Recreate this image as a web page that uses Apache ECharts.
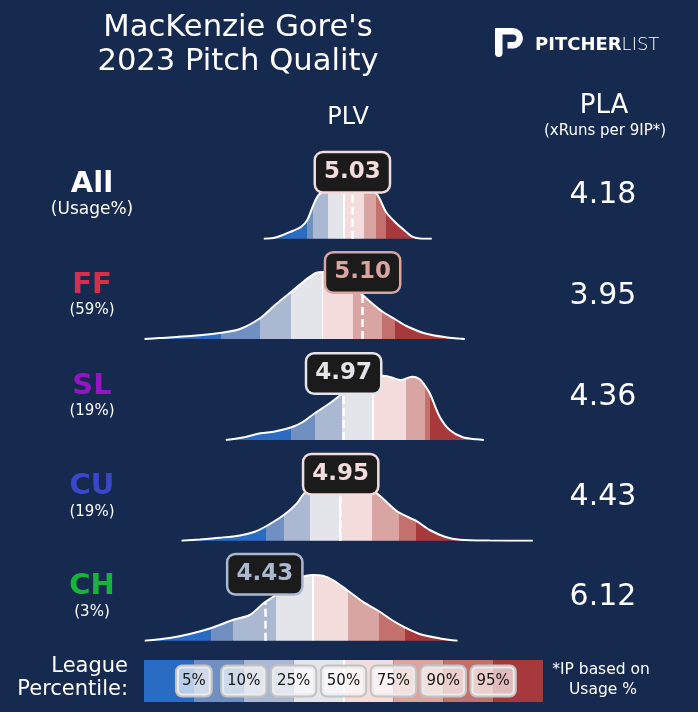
<!DOCTYPE html>
<html><head><meta charset="utf-8">
<script src="https://cdn.jsdelivr.net/npm/echarts@6/dist/echarts.min.js"></script>
<style>html,body{margin:0;padding:0;background:#162a4f}#c{width:698px;height:712px}</style>
</head><body><div id="c"></div>
<script>
// ---------------- data ----------------
const pitchTypes = ['All', 'FF', 'SL', 'CU', 'CH'];
const usageLabels = ['(Usage%)', '(59%)', '(19%)', '(19%)', '(3%)'];
const plaValues = [4.18, 3.95, 4.36, 4.43, 6.12];
const plvValues = [5.03, 5.10, 4.97, 4.95, 4.43];
const percentileLevels = ['5%', '10%', '25%', '50%', '75%', '90%', '95%'];
// league PLV value at each percentile level, per pitch type
const pctAll = [4.722, 4.761, 4.864, 4.971, 5.108, 5.190, 5.259];
const pctFF  = [4.133, 4.400, 4.613, 4.825, 5.035, 5.236, 5.320];
const pctSL  = [4.613, 4.772, 4.962, 5.172, 5.396, 5.526, 5.560];
const pctCU  = [4.440, 4.560, 4.743, 4.944, 5.161, 5.350, 5.464];
const pctCH  = [4.065, 4.213, 4.505, 4.761, 5.000, 5.213, 5.389];
// pitcher PLV density curves [PLV, relative density]
const densAll = [[4.423,0],[4.478,0.004],[4.54,0.03],[4.60,0.065],[4.68,0.12],[4.722,0.19],[4.761,0.33],[4.80,0.44],[4.87,0.5],[4.97,0.52],[5.08,0.51],[5.19,0.46],[5.259,0.27],[5.32,0.17],[5.389,0.08],[5.44,0.02],[5.49,0.003],[5.574,0]];
const densFF = [[3.606,0],[3.71,0.01],[3.92,0.03],[4.12,0.06],[4.26,0.1],[4.40,0.21],[4.50,0.34],[4.61,0.47],[4.70,0.58],[4.78,0.66],[4.83,0.67],[4.94,0.62],[5.03,0.52],[5.10,0.44],[5.17,0.35],[5.24,0.27],[5.32,0.2],[5.40,0.13],[5.53,0.055],[5.67,0.017],[5.76,0.005],[5.80,0]];
const densSL = [[4.163,0],[4.29,0.027],[4.40,0.067],[4.50,0.085],[4.613,0.127],[4.69,0.18],[4.772,0.267],[4.875,0.367],[4.964,0.467],[5.04,0.55],[5.13,0.61],[5.23,0.645],[5.30,0.625],[5.36,0.6],[5.44,0.633],[5.49,0.61],[5.52,0.56],[5.56,0.467],[5.628,0.233],[5.697,0.1],[5.786,0.027],[5.882,0.007],[5.93,0]];
const densCU = [[3.86,0],[3.985,0.013],[4.122,0.03],[4.259,0.053],[4.362,0.09],[4.442,0.147],[4.56,0.257],[4.65,0.373],[4.704,0.48],[4.807,0.56],[4.95,0.6],[5.08,0.57],[5.18,0.49],[5.225,0.44],[5.286,0.357],[5.35,0.28],[5.464,0.2],[5.56,0.107],[5.663,0.04],[5.766,0.01],[5.97,0.002],[6.266,0]];
const densCH = [[3.608,0],[3.779,0.027],[3.916,0.067],[4.065,0.127],[4.21,0.207],[4.327,0.257],[4.423,0.377],[4.505,0.457],[4.60,0.577],[4.647,0.62],[4.715,0.65],[4.759,0.657],[4.827,0.65],[4.896,0.607],[5.0,0.5],[5.10,0.39],[5.21,0.297],[5.30,0.207],[5.389,0.133],[5.49,0.067],[5.63,0.023],[5.75,0]];

// ---------------- styling / layout ----------------
const percentiles = [pctAll, pctFF, pctSL, pctCU, pctCH];
const densities = [densAll, densFF, densSL, densCU, densCH];
const BG = '#162a4f';
const FONT = '"DejaVu Sans", "Noto Sans", sans-serif';
const bandColors = ['#2a6cc4', '#7090c2', '#abb8d1', '#e4e5ea', '#f3dcdb', '#d9a5a2', '#c4706c', '#a7383c'];
const nameColors = ['#ffffff', '#d8304c', '#9514c4', '#3b47c9', '#17b43c'];
const rowBase = [238.7, 339, 440, 540.7, 640.7];
const ROW_H = 100;
const X_MIN = 3.5, X_MAX = 6.5, G_LEFT = 129, G_WIDTH = 438;
const MEDIAN_HALF = 0.0065;

function hAt(d, v) {
  for (let k = 0; k < d.length - 1; k++) {
    if (v >= d[k][0] && v <= d[k + 1][0]) {
      const t = (v - d[k][0]) / (d[k + 1][0] - d[k][0]);
      return d[k][1] + t * (d[k + 1][1] - d[k][1]);
    }
  }
  return 0;
}
function bandOf(v, pct) { let n = 0; pct.forEach(p => { if (p <= v) n++; }); return n; }

const grid = [], xAxis = [], yAxis = [], series = [], visualMap = [];
pitchTypes.forEach((pt, i) => {
  grid.push({ left: G_LEFT, width: G_WIDTH, top: rowBase[i] - ROW_H, height: ROW_H });
  xAxis.push({ type: 'value', gridIndex: i, min: X_MIN, max: X_MAX, show: false });
  yAxis.push({ type: 'value', gridIndex: i, min: 0, max: 1, show: false });
  const pct = percentiles[i];
  const edges = [3.0].concat(pct).concat([7.0]);
  const pieces = [];
  for (let b = 0; b < 8; b++) {
    let lo = edges[b], hi = edges[b + 1];
    if (b === 3) hi = pct[3] - MEDIAN_HALF;
    if (b === 4) lo = pct[3] + MEDIAN_HALF;
    pieces.push({ gte: lo, lt: hi, color: bandColors[b] });
    if (b === 3) pieces.push({ gte: pct[3] - MEDIAN_HALF, lt: pct[3] + MEDIAN_HALF, color: '#ffffff' });
  }
  visualMap.push({ type: 'piecewise', show: false, dimension: 0, seriesIndex: i, pieces: pieces });
  const pv = plvValues[i];
  const bc = bandColors[bandOf(pv, pct)];
  series.push({
    type: 'line', xAxisIndex: i, yAxisIndex: i, data: densities[i],
    smooth: 0.3, showSymbol: false, silent: true,
    lineStyle: { color: '#ffffff', width: 2 },
    areaStyle: { opacity: 1 },
    markLine: {
      silent: true, symbol: 'none', animation: false,
      label: { show: false },
      lineStyle: { color: '#ffffff', type: [8, 4], width: 2.5 },
      data: [[{ coord: [pv, 0] }, { coord: [pv, hAt(densities[i], pv)] }]]
    },
    markPoint: {
      silent: true, symbol: 'circle', symbolSize: 0, animation: false,
      data: [{ coord: [pv, 0.665], value: pv }],
      label: {
        show: true, position: 'inside', formatter: pv.toFixed(2),
        color: bc, fontFamily: FONT, fontWeight: 'bold', fontSize: 23, lineHeight: 27,
        backgroundColor: '#1b1b1b', borderColor: bc, borderWidth: 2.5, borderRadius: 7,
        padding: [6, 8, 5, 8]
      }
    }
  });
});

// legend (league percentile colour bar)
grid.push({ left: 144, width: 399, top: 660, height: 42 });
xAxis.push({ type: 'category', gridIndex: 5, data: bandColors.map((c, k) => 'b' + k), show: false, boundaryGap: true });
xAxis.push({ type: 'value', gridIndex: 5, min: 0, max: 8, show: false });
yAxis.push({ type: 'value', gridIndex: 5, min: 0, max: 1, show: false });
series.push({
  type: 'bar', xAxisIndex: 5, yAxisIndex: 5, barCategoryGap: '0%', silent: true, z: 2,
  data: bandColors.map(c => ({ value: 1, itemStyle: { color: c } }))
});
series.push({
  type: 'scatter', xAxisIndex: 6, yAxisIndex: 5, symbolSize: 0, silent: true, z: 5,
  itemStyle: { opacity: 1 },
  data: percentileLevels.map((t, k) => [k + 1, 0.5]),
  label: {
    show: true, position: 'inside', formatter: p => percentileLevels[p.dataIndex],
    color: '#151515', fontFamily: FONT, fontSize: 15, lineHeight: 18,
    backgroundColor: 'rgba(255,255,255,0.66)', borderColor: 'rgba(195,195,195,1)', borderWidth: 2,
    borderRadius: 5, padding: [6, 5, 5, 5]
  },
  markLine: {
    silent: true, symbol: 'none', animation: false, z: 3, label: { show: false },
    lineStyle: { color: '#ffffff', type: 'solid', width: 2 },
    data: [[{ coord: [4, 0] }, { coord: [4, 1] }]]
  }
});

// ---------------- texts ----------------
function txt(text, x, y, size, opts) {
  opts = opts || {};
  return {
    type: 'text', silent: true, z: 100,
    style: Object.assign({
      text: text, x: x, y: y, fill: '#ffffff',
      font: (opts.weight || 'normal') + ' ' + size + 'px ' + FONT,
      align: opts.align || 'center', verticalAlign: 'middle'
    }, opts.style || {})
  };
}
const graphic = [
  txt("MacKenzie Gore's", 238, 28, 30.6),
  txt('2023 Pitch Quality', 238, 62, 30.6),
  txt('PLV', 348, 118, 24),
  txt('PLA', 604, 106, 26),
  txt('(xRuns per 9IP*)', 605, 131, 15),
  txt('League', 128, 667, 21, { align: 'right' }),
  txt('Percentile:', 128, 690, 21, { align: 'right' }),
  txt('*IP based on', 601, 670, 15.5),
  txt('Usage %', 603, 690, 15.5),
  // Pitcher List logo mark
  { type: 'rect', silent: true, shape: { x: 495, y: 28, width: 7.5, height: 29, r: [0, 0, 3.7, 3.7] }, style: { fill: '#ffffff' } },
  { type: 'rect', silent: true, shape: { x: 495, y: 28, width: 18, height: 6.5 }, style: { fill: '#ffffff' } },
  { type: 'rect', silent: true, shape: { x: 507.5, y: 42, width: 6, height: 6.5 }, style: { fill: '#ffffff' } },
  { type: 'arc', silent: true, shape: { cx: 512.75, cy: 38.25, r: 7, startAngle: -Math.PI / 2, endAngle: Math.PI / 2, clockwise: true }, style: { stroke: '#ffffff', lineWidth: 6.5, fill: null } },
  {
    type: 'text', silent: true,
    style: {
      text: '{b|PITCHER}{l|LIST}', x: 535, y: 45, align: 'left', verticalAlign: 'middle',
      rich: {
        b: { fontFamily: FONT, fontWeight: 'bold', fontSize: 18, fill: '#ffffff', color: '#ffffff' },
        l: { fontFamily: FONT, fontWeight: 200, fontSize: 18, fill: '#ffffff', color: '#ffffff' }
      }
    }
  }
];
pitchTypes.forEach((pt, i) => {
  graphic.push(txt(pt, 92, rowBase[i] - 54, 29, { weight: 'bold', style: { fill: nameColors[i] } }));
  graphic.push(txt(usageLabels[i], 92, rowBase[i] - 29, i === 0 ? 17 : 15));
  graphic.push(txt(plaValues[i].toFixed(2), 603, rowBase[i] - 43, 30));
});

const chart = echarts.init(document.getElementById('c'));
chart.setOption({
  backgroundColor: BG,
  animation: false,
  grid, xAxis, yAxis, visualMap, series, graphic
});
</script></body></html>
